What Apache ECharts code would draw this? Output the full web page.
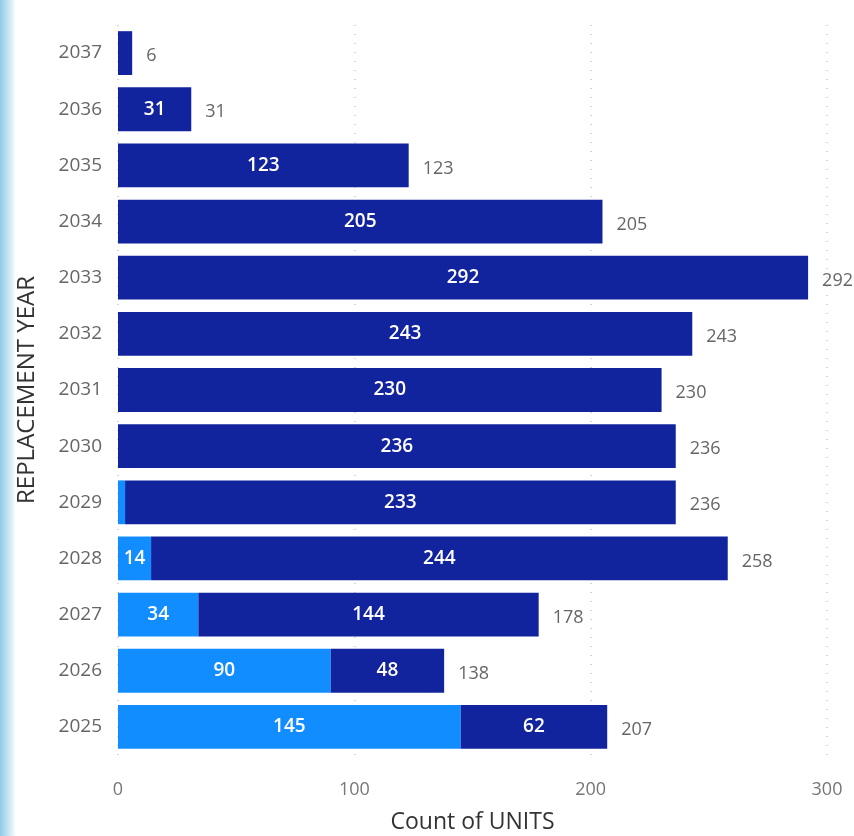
<!DOCTYPE html>
<html>
<head>
<meta charset="utf-8">
<script src="https://cdn.jsdelivr.net/npm/echarts@6/dist/echarts.min.js"></script>
<style>
  html, body { margin: 0; padding: 0; background: #ffffff; }
  #chart { width: 854px; height: 836px; }
</style>
</head>
<body>
<div id="chart"></div>
<script>
// Replacement year buckets, bottom to top
const years = ['2025', '2026', '2027', '2028', '2029', '2030', '2031', '2032', '2033', '2034', '2035', '2036', '2037'];
// Units already past due (light) and units scheduled (dark)
const overdueUnits = [145, 90, 34, 14, 3, 0, 0, 0, 0, 0, 0, 0, 0];
const scheduledUnits = [62, 48, 144, 244, 233, 236, 230, 243, 292, 205, 123, 31, 6];
const xTicks = [0, 100, 200, 300];

const totals = years.map((_, i) => overdueUnits[i] + scheduledUnits[i]);

const FONT = '"Segoe UI", "Open Sans", "Noto Sans", sans-serif';

const innerLabel = {
  show: true,
  position: 'inside',
  color: '#ffffff',
  fontFamily: FONT,
  fontSize: 19,
  fontWeight: 600,
  formatter: p => (p.value >= 10 ? String(p.value) : '')
};

const chart = echarts.init(document.getElementById('chart'), null, { renderer: 'canvas' });

chart.setOption({
  animation: false,
  backgroundColor: '#ffffff',
  graphic: [{
    type: 'rect',
    left: 0,
    top: 0,
    shape: { x: 0, y: 0, width: 16, height: 836 },
    style: {
      fill: new echarts.graphic.LinearGradient(0, 0, 1, 0, [
        { offset: 0, color: '#8fcbe6' },
        { offset: 0.6, color: '#cfe9f4' },
        { offset: 1, color: '#ffffff' }
      ])
    },
    silent: true,
    z: -1
  }],
  grid: { left: 118, right: 27, top: 25, bottom: 81, containLabel: false, outerBoundsMode: 'none' },
  xAxis: {
    type: 'value',
    min: 0,
    max: 300,
    interval: 100,
    name: 'Count of UNITS',
    nameLocation: 'middle',
    nameGap: 56,
    nameTextStyle: { color: '#333333', fontFamily: FONT, fontSize: 23 },
    axisLine: { show: false },
    axisTick: { show: false },
    axisLabel: {
      color: '#777777',
      fontFamily: FONT,
      fontSize: 18,
      margin: 26,
      formatter: v => (xTicks.includes(v) ? String(v) : '')
    },
    splitLine: { show: true, lineStyle: { color: '#c8c8c8', type: [1, 8], width: 1.5 } }
  },
  yAxis: {
    type: 'category',
    data: years,
    name: 'REPLACEMENT YEAR',
    nameLocation: 'middle',
    nameGap: 79,
    nameTextStyle: { color: '#333333', fontFamily: FONT, fontSize: 24 },
    axisLine: { show: false },
    axisTick: { show: false },
    axisLabel: { color: '#666666', fontFamily: FONT, fontSize: 19, margin: 16 }
  },
  series: [
    {
      name: 'Overdue',
      type: 'bar',
      stack: 'units',
      data: overdueUnits,
      barWidth: '78%',
      itemStyle: { color: '#118DFF' },
      label: innerLabel
    },
    {
      name: 'Scheduled',
      type: 'bar',
      stack: 'units',
      data: scheduledUnits,
      barWidth: '78%',
      itemStyle: { color: '#12239E' },
      label: innerLabel
    },
    {
      // zero-length segment at the end of each stack carries the total label
      name: 'Total',
      type: 'bar',
      stack: 'units',
      data: years.map(() => 0),
      barWidth: '78%',
      itemStyle: { color: 'transparent' },
      label: {
        show: true,
        position: 'right',
        distance: 14,
        offset: [0, 3],
        color: '#666666',
        fontFamily: FONT,
        fontSize: 18,
        formatter: p => String(totals[p.dataIndex])
      },
      tooltip: { show: false }
    }
  ]
});
</script>
</body>
</html>
